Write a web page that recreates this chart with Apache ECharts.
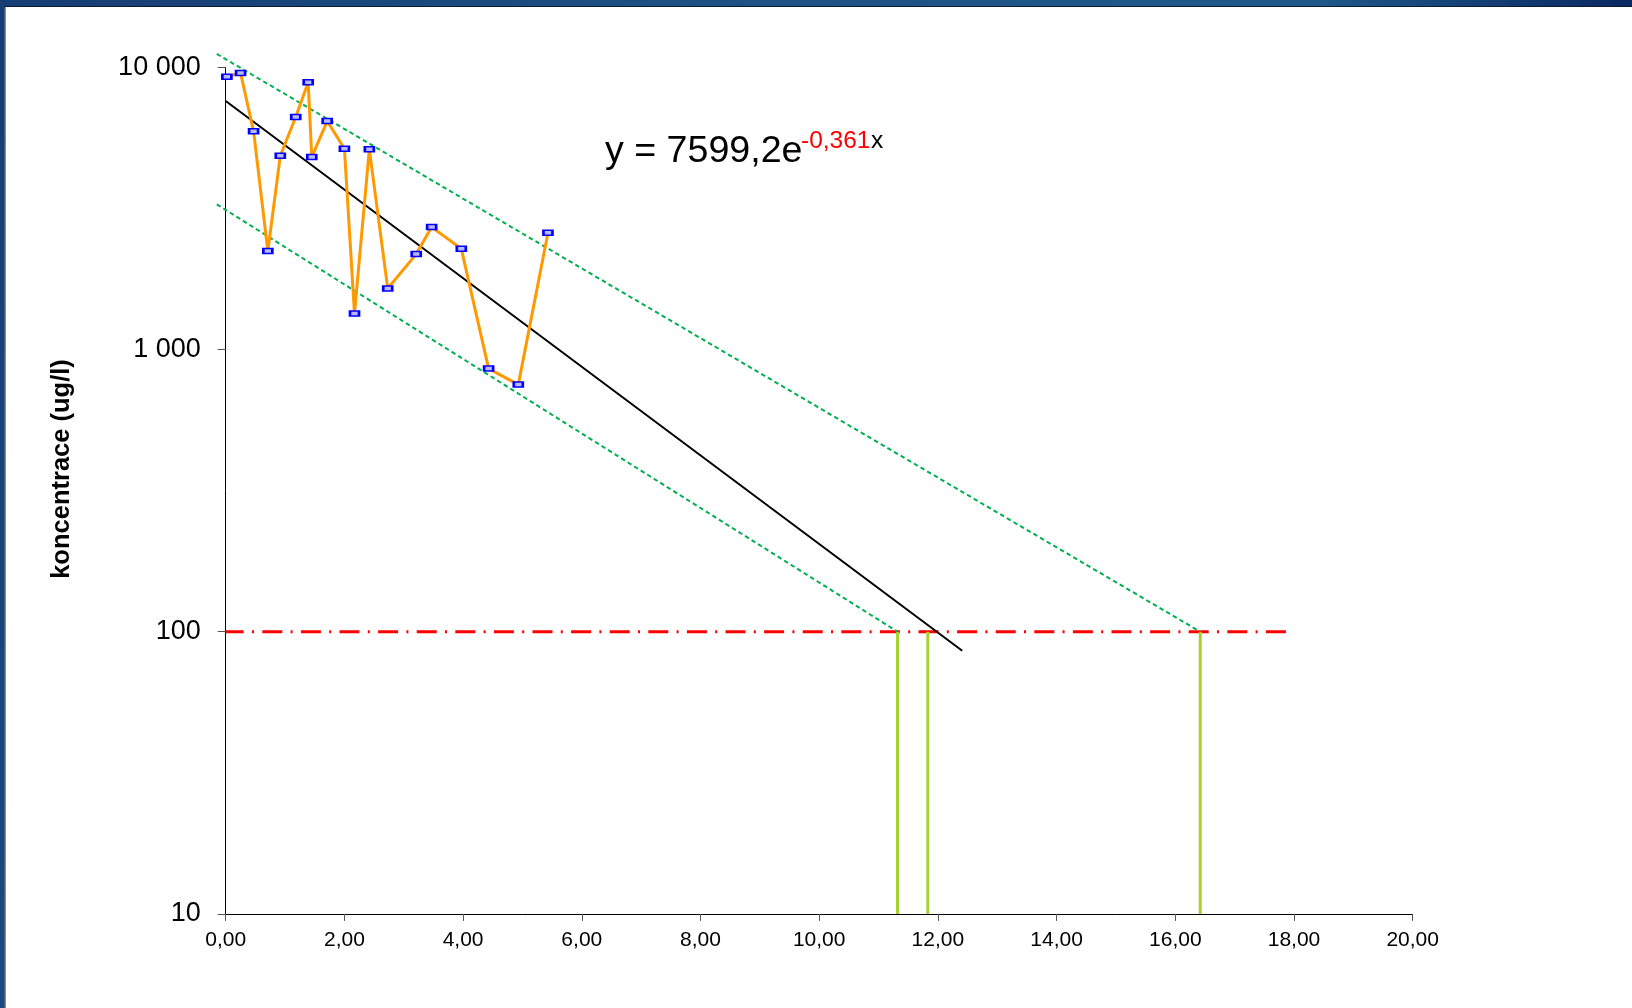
<!DOCTYPE html>
<html>
<head>
<meta charset="utf-8">
<script src="https://cdn.jsdelivr.net/npm/echarts@6/dist/echarts.min.js"></script>
<style>
html,body{margin:0;padding:0;background:#fff;}
#c{width:1632px;height:1008px;}
</style>
</head>
<body>
<div id="c"></div>
<script>
// measured data (time in years, concentration in ug/l)
var timeX = [0.02, 0.25, 0.47, 0.71, 0.92, 1.18, 1.39, 1.45, 1.71, 2.00, 2.17, 2.42, 2.73, 3.21, 3.47, 3.97, 4.43, 4.93, 5.43];
var conc  = [9260, 9545, 5930, 2232, 4860, 6664, 8845, 4808, 6450, 5144, 1342, 5119, 1646, 2178, 2715, 2274, 856, 751, 2591];
// exponential trend y = 7599,2e^(-0,361x): endpoints
var trendLine = [[0, 7599.2], [12.41, 85.6]];
// confidence band lines (endpoints)
var upperLine = [[-0.15, 11150], [16.42, 100]];
var lowerLine = [[-0.15, 3270], [11.32, 100]];
// limit value
var limitLine = [[0, 100], [17.9, 100]];
// cut-off times
var cutoffX = [11.32, 11.83, 16.42];
var xTicks = {min: 0, max: 20, interval: 2};
var yRange = {min: 10, max: 10000};

var chart = echarts.init(document.getElementById('c'), null, {renderer: 'canvas'});
var FONT = 'Liberation Sans, Arial, sans-serif';

function polylineSeries(points, stroke, width, dash, z) {
  return {
    type: 'custom', data: points, clip: false, silent: true, z: z,
    encode: {x: 0, y: 1},
    renderItem: function (params, api) {
      if (params.dataIndex !== 0) return null;
      var pts = points.map(function (p) { return api.coord(p); });
      return {
        type: 'polyline', shape: {points: pts},
        style: {stroke: stroke, lineWidth: width, lineDash: dash, fill: null}
      };
    }
  };
}

var series = [];
series.push({
  type: 'line', data: limitLine, symbol: 'none', silent: true, z: 3,
  lineStyle: {color: '#ff0000', width: 3, type: [20, 8.3, 2, 8.3], dashOffset: 2}
});
cutoffX.forEach(function (x) {
  series.push({
    type: 'line', data: [[x, yRange.min], [x, 100]], symbol: 'none', silent: true, z: 4,
    lineStyle: {color: '#a6d22e', width: 3}
  });
});
series.push(polylineSeries(upperLine, '#00b050', 2, [4.5, 3.2], 5));
series.push(polylineSeries(lowerLine, '#00b050', 2, [4.5, 3.2], 5));
series.push({
  type: 'line', data: trendLine, symbol: 'none', silent: true, z: 6,
  lineStyle: {color: '#000000', width: 2}
});
series.push({
  type: 'line', data: timeX.map(function (x, i) { return [x, conc[i]]; }),
  symbol: 'rect', symbolSize: [9, 5], showAllSymbol: true, z: 7,
  lineStyle: {color: '#ff9900', width: 3},
  itemStyle: {color: '#b8b8ff', borderColor: '#0000ff', borderWidth: 2}
});

chart.setOption({
  animation: false,
  backgroundColor: '#ffffff',
  grid: {left: 225.7, right: 219.3, top: 67.3, bottom: 94.1, containLabel: false},
  xAxis: {
    type: 'value', min: xTicks.min, max: xTicks.max, interval: xTicks.interval,
    axisLine: {show: true, onZero: false, lineStyle: {color: '#000', width: 1}},
    axisTick: {show: true, inside: false, length: 7, lineStyle: {color: '#555'}},
    splitLine: {show: false},
    axisLabel: {
      margin: 16, fontSize: 21, color: '#000', fontFamily: FONT,
      formatter: function (v) { return v.toFixed(2).replace('.', ','); }
    }
  },
  yAxis: {
    type: 'log', logBase: 10, min: yRange.min, max: yRange.max,
    axisLine: {show: true, lineStyle: {color: '#000', width: 1}},
    axisTick: {show: true, inside: false, length: 8, lineStyle: {color: '#555'}},
    minorTick: {show: false},
    splitLine: {show: false},
    axisLabel: {
      margin: 25, fontSize: 27, color: '#000', fontFamily: FONT, padding: [6, 0, 0, 0],
      formatter: function (v) { return String(Math.round(v)).replace(/\B(?=(\d{3})+(?!\d))/g, ' '); }
    }
  },
  series: series,
  graphic: [
    {type: 'rect', shape: {x: 0, y: 0, width: 1632, height: 6}, z: 100,
     style: {fill: new echarts.graphic.LinearGradient(0, 0, 1, 0, [
       {offset: 0, color: '#163d74'}, {offset: 0.45, color: '#1d5284'},
       {offset: 0.8, color: '#1f5a8a'}, {offset: 1, color: '#0a2862'}])}},
    {type: 'rect', shape: {x: 0, y: 6, width: 1632, height: 1}, z: 100, style: {fill: '#0a1a34'}},
    {type: 'rect', shape: {x: 0, y: 0, width: 4.5, height: 1008}, z: 101,
     style: {fill: new echarts.graphic.LinearGradient(0, 0, 0, 1, [
       {offset: 0, color: '#163d74'}, {offset: 1, color: '#1a4a7e'}])}},
    {type: 'rect', shape: {x: 4.5, y: 6, width: 1, height: 1002}, z: 101, style: {fill: '#0a1a34'}},
    {type: 'text', x: 62, y: 469, rotation: Math.PI / 2, z: 50,
     style: {text: 'koncentrace (ug/l)', font: 'bold 25.5px ' + FONT, fill: '#000', align: 'center', verticalAlign: 'middle'}},
    {type: 'text', x: 605, y: 151.5, z: 50,
     style: {text: 'y = 7599,2e', font: '37.6px ' + FONT, fill: '#000', align: 'left', verticalAlign: 'middle'}},
    {type: 'text', x: 801, y: 141.7, z: 50,
     style: {text: '-0,361', font: '24.5px ' + FONT, fill: '#ff0000', align: 'left', verticalAlign: 'middle'}},
    {type: 'text', x: 871, y: 141.7, z: 50,
     style: {text: 'x', font: '24.5px ' + FONT, fill: '#000', align: 'left', verticalAlign: 'middle'}}
  ]
});
</script>
</body>
</html>
